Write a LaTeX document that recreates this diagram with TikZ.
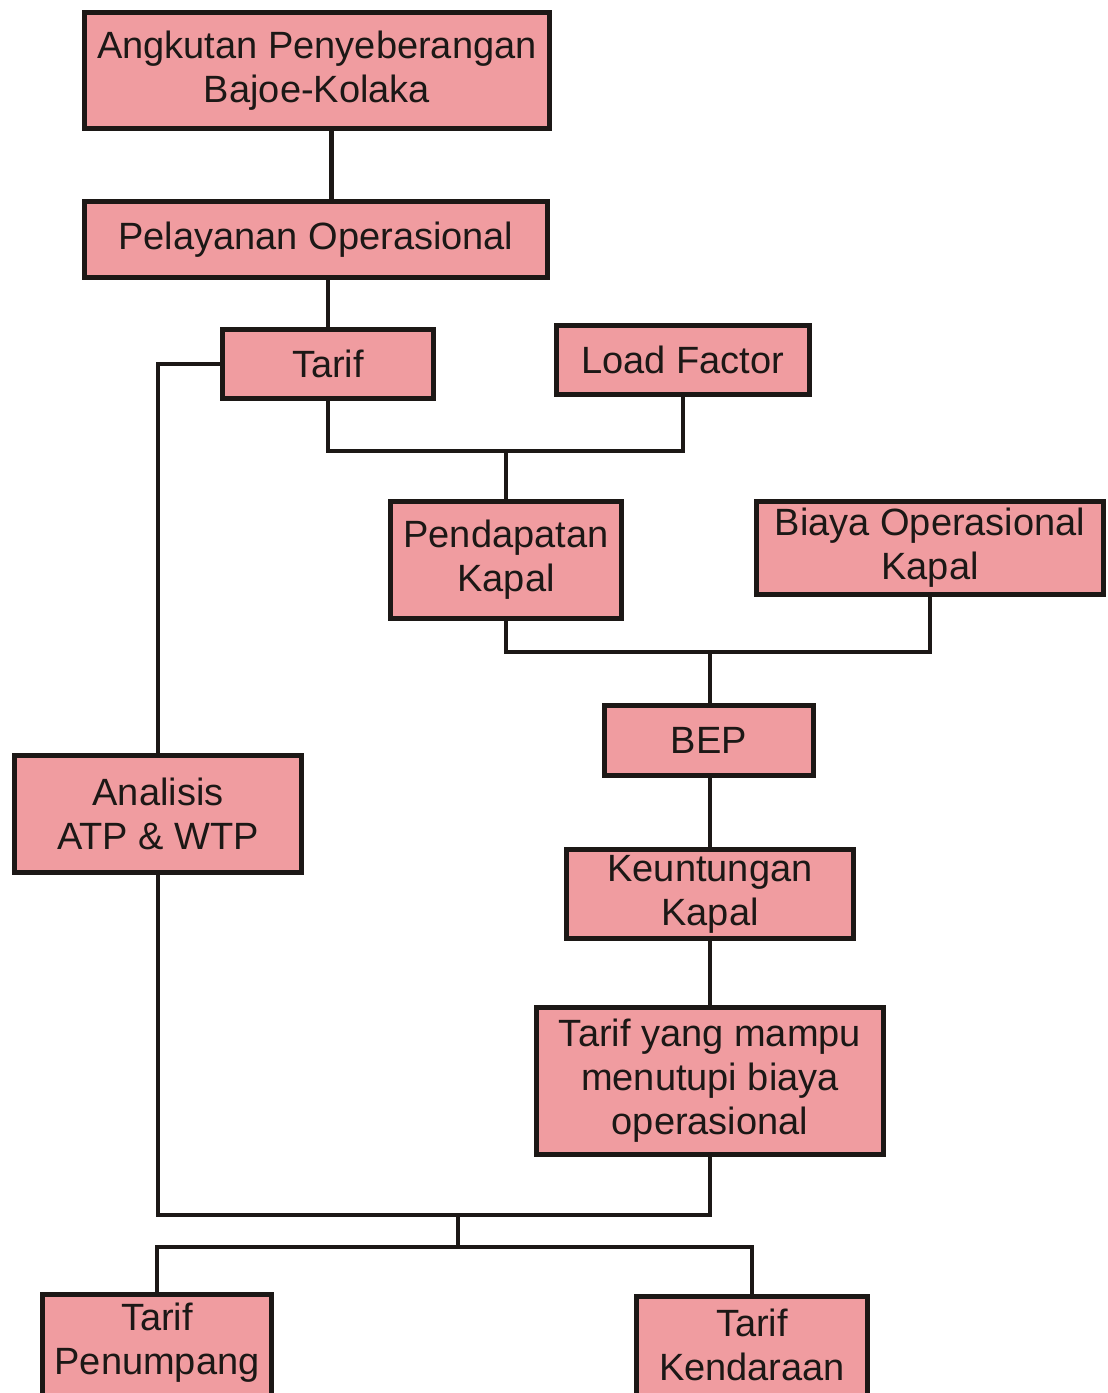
\documentclass[tikz,border=0pt]{standalone}
\usepackage{fontspec}
\setmainfont{Liberation Sans}
\definecolor{boxfill}{RGB}{240,156,160}
\definecolor{ink}{RGB}{28,24,22}
\begin{document}
\begin{tikzpicture}[x=1pt,y=-1pt,
  box/.style={draw=ink, fill=boxfill, line width=5pt, inner sep=0pt, align=center,
    font=\fontsize{38}{44}\selectfont, text=ink},
  lbl/.style={align=center, font=\fontsize{38}{44}\selectfont, text=ink, inner sep=0pt},
  conn/.style={draw=ink, line width=4pt}]
\useasboundingbox (0,0) rectangle (1108,1393);
\clip (0,0) rectangle (1108,1393);
\fill[white] (0,0) rectangle (1108,1393);
\node[box, minimum width=465pt, minimum height=116pt] (ang) at (317,70.5) {Angkutan Penyeberangan\\Bajoe-Kolaka};
\node[box, minimum width=463pt, minimum height=76pt] (pel) at (316,239.5) {Pelayanan Operasional};
\node[box, minimum width=211pt, minimum height=69pt] (tar) at (328,364) {Tarif};
\node[box, minimum width=253pt, minimum height=69pt] (lf) at (683,360) {Load Factor};
\node[box, minimum width=231pt, minimum height=117pt] (pend) at (506,560) {Pendapatan\\Kapal};
\node[box, minimum width=347pt, minimum height=93pt] (bia) at (930,548) {Biaya Operasional\\Kapal};
\node[box, minimum width=209pt, minimum height=70pt] (bep) at (709,740.5) {BEP};
\node[box, minimum width=287pt, minimum height=117pt] (ana) at (158,814) {Analisis\\ATP \& WTP};
\node[box, minimum width=287pt, minimum height=89pt] (keu) at (710,894) {Keuntungan\\Kapal};
\node[box, minimum width=347pt, minimum height=147pt] (tym) at (710,1081) {Tarif yang mampu\\menutupi biaya\\operasional};
\node[box, minimum width=229pt, minimum height=114pt] (tp) at (157,1351) {};
\node[box, minimum width=231pt, minimum height=112pt] (tk) at (752,1352) {};
\node[lbl] (tpt) at (157,1343) {Tarif\\Penumpang};
\node[lbl] (tkt) at (752,1345) {Tarif\\Kendaraan};
\coordinate (t1) at (331,0);
\coordinate (j1) at (506,451);
\coordinate (j2) at (710,652);
\coordinate (j3) at (458,1215);
\coordinate (j4) at (458,1247);
\draw[conn, line width=5pt] (ang.south -| t1) -- (pel.north -| t1);
\draw[conn] (pel.south -| tar.north) -- (tar.north);
\draw[conn] (tar.west) -| (ana.north);
\draw[conn] (tar.south) |- (j1) -| (lf.south);
\draw[conn] (j1) -- (pend.north);
\draw[conn] (pend.south) |- (j2) -| (bia.south);
\draw[conn] (j2) -- (j2 |- bep.north);
\draw[conn] (bep.south -| j2) -- (keu.north -| j2);
\draw[conn] (keu.south) -- (tym.north);
\draw[conn] (ana.south) |- (j3) -| (tym.south);
\draw[conn] (j3) -- (j4);
\draw[conn] (tp.north) |- (j4) -| (tk.north);
\end{tikzpicture}
\end{document}
